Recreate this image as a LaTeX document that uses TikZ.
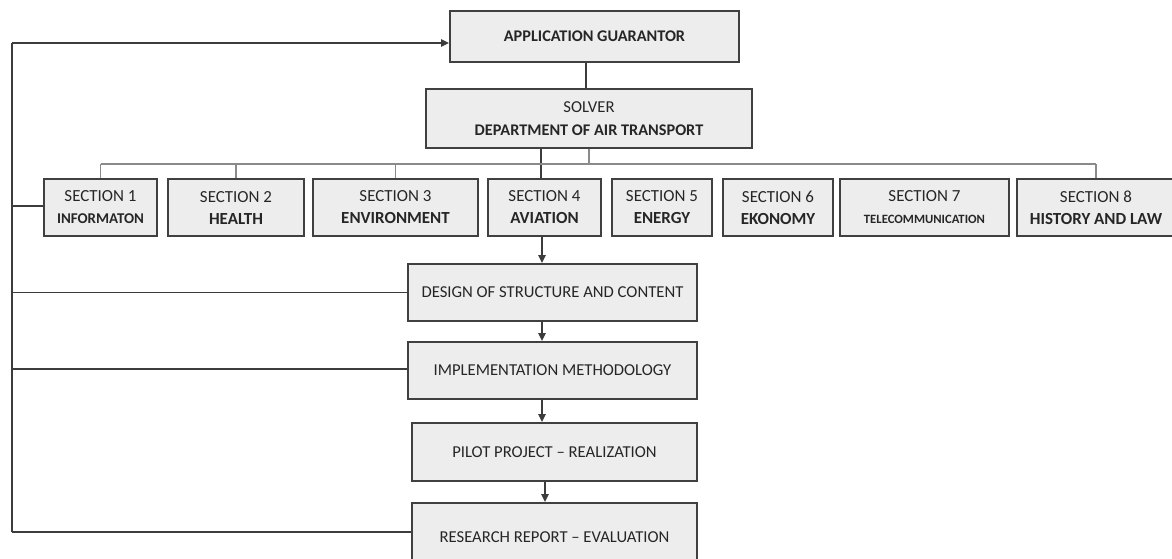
\documentclass[tikz,border=0pt]{standalone}
\usepackage{fontspec}
\setmainfont{Carlito}
\usetikzlibrary{arrows.meta}
\definecolor{boxfill}{HTML}{EDEDED}
\definecolor{boxline}{HTML}{404040}
\definecolor{wire}{HTML}{3C3C3C}
\definecolor{buswire}{HTML}{8A8A8A}
\tikzset{
  x=0.75pt, y=-0.75pt,
  box/.style={draw=boxline, fill=boxfill, line width=1.4pt, inner sep=0pt,
    align=center, text=black!85, font=\fontsize{12.7}{16.5}\selectfont},
  sect/.style={box, minimum height=57*0.75pt},
  flow/.style={box, minimum width=289*0.75pt, minimum height=57*0.75pt,
    font=\fontsize{12.5}{15}\selectfont},
  link/.style={draw=wire, line width=1.1pt},
  buslink/.style={draw=buswire, line width=1.1pt},
  arr/.style={link, -{Triangle[length=6pt,width=5.5pt]}},
}
\begin{document}
\begin{tikzpicture}
\useasboundingbox (0,0) rectangle (1172,558);

% top of the hierarchy
\node[box, minimum width=289*0.75pt, minimum height=51*0.75pt,
  font=\fontsize{12.2}{15}\selectfont\bfseries] (guar) at (594.5,36.5)
  {APPLICATION GUARANTOR};
\node[box, minimum width=326*0.75pt, minimum height=59*0.75pt,
  font=\fontsize{12.5}{17}\selectfont] (solver) at (589,118.5)
  {SOLVER\\\fontsize{12.2}{17}\selectfont\bfseries DEPARTMENT OF AIR TRANSPORT};

% sections
\node[sect, minimum width=113*0.75pt] (s1) at (100.5,207.5)
  {SECTION 1\\\fontsize{11.2}{16.5}\selectfont\bfseries INFORMATON};
\node[sect, minimum width=136*0.75pt] (s2) at (236,207.5)
  {SECTION 2\\\bfseries HEALTH};
\node[sect, minimum width=165*0.75pt] (s3) at (395.5,207.5)
  {SECTION 3\\\bfseries ENVIRONMENT};
\node[sect, minimum width=113*0.75pt] (s4) at (544.5,207.5)
  {SECTION 4\\\bfseries AVIATION};
\node[sect, minimum width=100*0.75pt] (s5) at (662,207.5)
  {SECTION 5\\\bfseries ENERGY};
\node[sect, minimum width=110*0.75pt] (s6) at (778,207.5)
  {SECTION 6\\\bfseries EKONOMY};
\node[sect, minimum width=169*0.75pt] (s7) at (924.5,207.5)
  {SECTION 7\\\fontsize{9.5}{16.5}\selectfont\bfseries TELECOMMUNICATION};
\node[sect, minimum width=158*0.75pt] (s8) at (1096,207.5)
  {SECTION 8\\\bfseries HISTORY AND LAW};

% workflow
\node[flow] (design) at (552.5,292.5) {DESIGN OF STRUCTURE AND CONTENT};
\node[flow] (impl) at (552.5,370.5) {IMPLEMENTATION METHODOLOGY};
\node[flow, minimum width=285*0.75pt, minimum height=58*0.75pt] (pilot) at (554.5,452)
  {PILOT PROJECT -- REALIZATION};
\node[flow, minimum width=285*0.75pt, minimum height=68*0.75pt] (report) at (554.5,537)
  {RESEARCH REPORT -- EVALUATION};

% helper coordinates
\coordinate (ltop) at (12,43);
\coordinate (lbot) at (12,532);
\coordinate (bus) at (0,164);
\coordinate (col) at (542,0);

% feedback line on the left
\draw[link] (lbot) -- (ltop);
\draw[arr] (ltop) -- (guar.west |- ltop);
\draw[link] (s1.west |- 0,206) -- (ltop |- 0,206);
\draw[link] (design.west) -- (design.west -| ltop);
\draw[link] (impl.west |- 0,369) -- (ltop |- 0,369);
\draw[link] (report.west |- lbot) -- (lbot);

% hierarchy links
\draw[link] (guar.south -| 586,0) -- (solver.north -| 586,0);
\draw[link, line width=1.5pt] (solver.south -| 541,0) -- (s4.north -| 541,0);
\draw[buslink] (solver.south) -- (solver.south |- bus);
\draw[buslink] (s1.north |- bus) -- (s8.north |- bus);
\foreach \s in {s1,s2,s3,s8}
  \draw[buslink] (\s.north |- bus) -- (\s.north);

% workflow arrows
\draw[arr] (s4.south -| col) -- (design.north -| col);
\draw[arr] (design.south -| col) -- (impl.north -| col);
\draw[arr] (impl.south -| col) -- (pilot.north -| col);
\draw[arr] (pilot.south -| 545,0) -- (report.north -| 545,0);
\end{tikzpicture}
\end{document}
